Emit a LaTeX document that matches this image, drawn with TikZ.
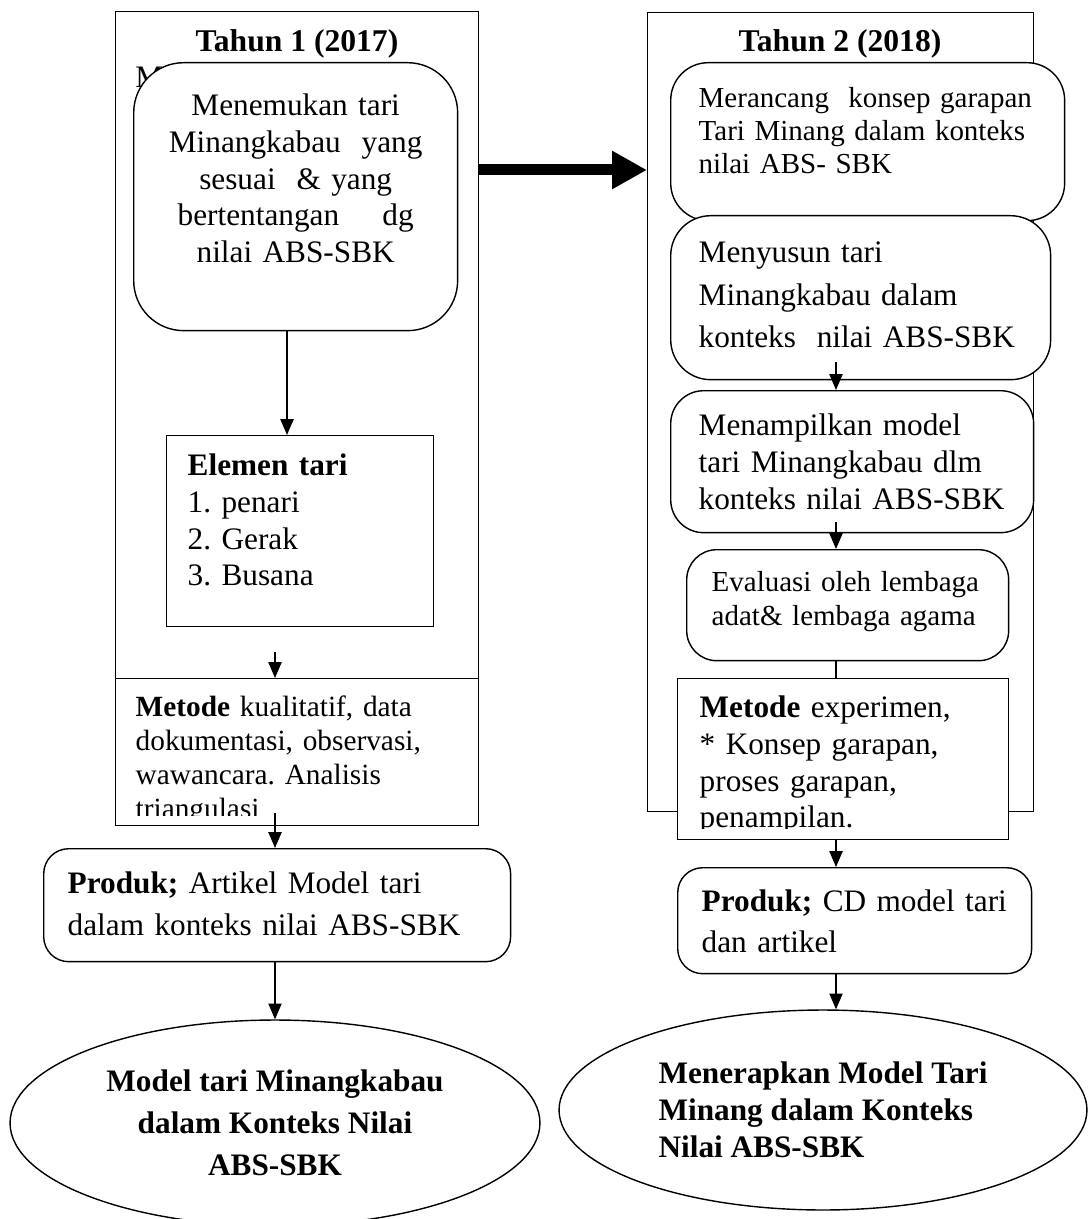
\documentclass[tikz,border=0pt]{standalone}
\usepackage{fontspec}
\setmainfont{Liberation Serif}
\usepackage{tikz}
\usetikzlibrary{arrows.meta, shapes.geometric, positioning}
\frenchspacing
\newcommand{\fsize}[2]{\fontsize{#1}{#2}\selectfont}
\tikzset{
  frame/.style={draw, rectangle, line width=0.8pt, inner sep=0pt, anchor=north west},
  plainbox/.style={draw, rectangle, line width=0.8pt, fill=white, anchor=north west, inner ysep=0pt, align=left},
  roundbox/.style={plainbox, rounded corners=#1},
  roundbox/.default=0.6cm,
  goal/.style={draw, ellipse, line width=0.8pt, fill=white, inner sep=0pt},
  title/.style={anchor=base, inner sep=0pt, font=\fsize{18pt}{21pt}\bfseries},
  arr/.style={-{Triangle[length=9pt,width=7.5pt]}, line width=0.8pt},
  bigarrow/.style={-{Triangle[length=0.7cm,width=0.72cm]}, line width=0.22cm}
}
\begin{document}
\begin{tikzpicture}[x=0.02cm, y=-0.02cm]
    \useasboundingbox (0,0) rectangle (1090,1219);
    \coordinate (colA) at (287,0);
    \coordinate (colB) at (275,0);
    \coordinate (colC) at (836,0);
    \coordinate (bigrow) at (0,170);

    \node[frame, minimum width=7.26cm, minimum height=16.28cm] (year1) at (115,11) {};
    \node[frame, minimum width=7.72cm, minimum height=15.98cm] (year2) at (647,12) {};
    \node[title] (title1) at (297,52) {Tahun 1 (2017)};
    \node[title] (title2) at (840,52) {Tahun 2 (2018)};
    \node[anchor=base west, inner sep=0pt, font=\fsize{17.8pt}{20.9pt}] (mhint) at (135,88) {M};

    \node[roundbox=1cm, align=center, text width=6.08cm, inner xsep=0.2cm, text height=1.06cm, text depth=4.3cm, font=\fsize{17.8pt}{20.9pt}] (menemukan) at (133,62) {Menemukan tari\\Minangkabau\ \ yang\\sesuai\ \ \& yang\\bertentangan\hspace{1.38em}dg\\nilai ABS-SBK};
    \node[plainbox, text width=4.5cm, inner xsep=0.42cm, text height=0.8cm, text depth=3.02cm, font=\fsize{17.8pt}{20.9pt}] (elemen) at (166,435) {\textbf{Elemen tari}\\1. penari\\2. Gerak\\3. Busana};
    \node[plainbox, text width=6.46cm, inner xsep=0.4cm, text height=0.76cm, text depth=2.18cm, font=\fsize{16.7pt}{19.3pt}] (metode1) at (115,678) {\textbf{Metode} kualitatif, data\\dokumentasi, observasi,\\wawancara. Analisis\\triangulasi};
    \fill[white] ([shift={(2,-10)}]metode1.south west) rectangle ([shift={(-2,-1.5)}]metode1.south east);
    \node[roundbox=0.5cm, text width=8.38cm, inner xsep=0.48cm, text height=0.9cm, text depth=1.36cm, font=\fsize{17.8pt}{23.9pt}] (produk1) at (43,848) {\textbf{Produk;} Artikel Model tari\\dalam konteks nilai ABS-SBK};
    \node[goal, minimum width=10.6cm, minimum height=4.12cm, align=center, font=\fsize{17.8pt}{23.9pt}\bfseries] (model1) at (275,1123) {Model tari Minangkabau\\dalam Konteks Nilai\\ABS-SBK};

    \node[roundbox=0.75cm, text width=6.76cm, inner xsep=0.56cm, text height=0.9cm, text depth=2.26cm, font=\fsize{16.5pt}{18.8pt}] (merancang) at (670,62) {Merancang\ \ konsep garapan\\Tari Minang dalam konteks\\nilai ABS- SBK};
    \node[roundbox=0.8cm, text width=6.48cm, inner xsep=0.56cm, text height=0.94cm, text depth=2.34cm, font=\fsize{17.8pt}{24.2pt}] (menyusun) at (670,215) {Menyusun tari\\Minangkabau dalam\\konteks\ \ nilai ABS-SBK};
    \node[roundbox=0.66cm, text width=6.14cm, inner xsep=0.56cm, text height=0.9cm, text depth=1.94cm, font=\fsize{17.8pt}{20.9pt}] (menampilkan) at (670,390) {Menampilkan model\\tari Minangkabau dlm\\konteks nilai ABS-SBK};
    \node[roundbox=0.6cm, text width=5.44cm, inner xsep=0.5cm, text height=0.84cm, text depth=1.38cm, font=\fsize{16.5pt}{19.4pt}] (evaluasi) at (686,549) {Evaluasi oleh lembaga\\adat\& lembaga agama};
    \node[plainbox, text width=5.74cm, inner xsep=0.44cm, text height=0.78cm, text depth=2.44cm, font=\fsize{17.8pt}{20.9pt}] (metode2) at (677,678) {\textbf{Metode} experimen,\\{*} Konsep garapan,\\proses garapan,\\penampilan.};
    \fill[white] ([shift={(2,-11)}]metode2.south west) rectangle ([shift={(-2,-1.5)}]metode2.south east);
    \node[roundbox=0.5cm, text width=6.12cm, inner xsep=0.48cm, text height=0.88cm, text depth=1.24cm, font=\fsize{17.8pt}{23.3pt}] (produk2) at (677,867) {\textbf{Produk;} CD model tari\\dan artikel};
    \node[goal, minimum width=10.56cm, minimum height=4cm, align=left, font=\fsize{17.8pt}{21pt}\bfseries] (model2) at (823,1110) {Menerapkan Model Tari\\Minang dalam Konteks\\Nilai ABS-SBK};

    \coordinate (m1in) at (275,652);
    \coordinate (m1out) at (275,813);
    \coordinate (s2out) at (836,362);
    \coordinate (s3out) at (836,522);

    \draw[bigarrow] (year1.east |- bigrow) -- (year2.west |- bigrow);
    \draw[arr] (colA |- menemukan.south) -- (colA |- elemen.north);
    \draw[arr] (m1in) -- (colB |- metode1.north);
    \draw[arr] (m1out) -- (colB |- produk1.north);
    \draw[arr] (colB |- produk1.south) -- (colB |- model1.north);
    \draw[arr] (s2out) -- (colC |- menampilkan.north);
    \draw[arr] (s3out) -- (colC |- evaluasi.north);
    \draw[line width=0.8pt] (colC |- evaluasi.south) -- (colC |- metode2.north);
    \draw[arr] (colC |- metode2.south) -- (colC |- produk2.north);
    \draw[arr] (colC |- produk2.south) -- (colC |- model2.north);
\end{tikzpicture}
\end{document}
